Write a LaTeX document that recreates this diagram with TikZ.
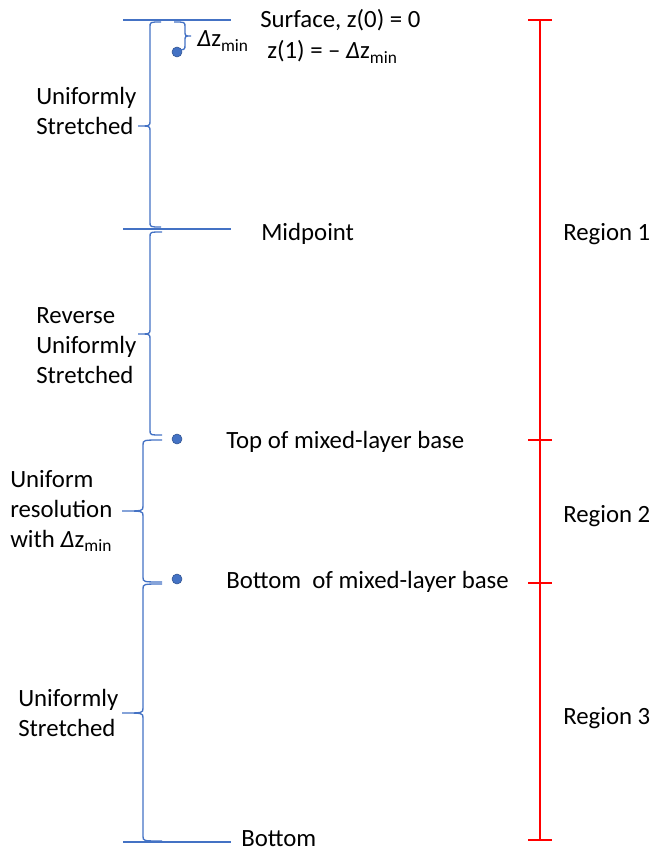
\documentclass[tikz,border=0pt]{standalone}
\usepackage{fontspec}
\setmainfont{Carlito}
\usetikzlibrary{positioning}
\definecolor{lineblue}{RGB}{68,114,196}
\definecolor{dotedge}{RGB}{47,82,143}
\tikzstyle{level} = [lineblue, line width=1.1pt]
\tikzstyle{curly} = [lineblue, line width=1pt]
\tikzstyle{ruler} = [red, line width=1.1pt]
\tikzstyle{txt} = [inner sep=0pt, align=left, font=\fontsize{18.6}{22.5}\selectfont]
\tikzstyle{gridpt} = [circle, fill=lineblue, draw=dotedge, line width=0.4pt, inner sep=0pt, minimum size=7.5pt]
% brace: end x, spine x, tip x, top y, tip y, bottom y
\newcommand{\sidebrace}[6]{%
  \draw[curly] (#1,#4) .. controls (#2,#4) .. (#2,{#4+5}) -- (#2,{#5-5})
    .. controls (#2,#5) .. (#3,#5) .. controls (#2,#5) .. (#2,{#5+5})
    -- (#2,{#6-5}) .. controls (#2,#6) .. (#1,#6);}
\newcommand{\dzmin}{\textit{Δ}z\textsubscript{min}}

\begin{document}
\begin{tikzpicture}[x=0.75pt, y=-0.75pt]
     \useasboundingbox (0,0) rectangle (653,852);
     % Levels
     \coordinate (surfL) at (123,20);   \coordinate (surfR) at (231,20);
     \coordinate (midL) at (123,229);   \coordinate (midR) at (231,229);
     \coordinate (botL) at (123,842);   \coordinate (botR) at (231,842);
     \draw [level] (surfL) -- (surfR);
     \draw [level] (midL) -- (midR);
     \draw [level] (botL) -- (botR);
     % Grid points
     \node [gridpt] (z1) at (177,52) {};
     \node [gridpt] (mltop) at (177,439) {};
     \node [gridpt] (mlbot) at (177,579) {};
     % Braces
     \sidebrace{174}{185}{191}{22}{36}{50}
     \sidebrace{161}{150}{138}{22}{126}{227}
     \sidebrace{162}{150}{138}{232}{334}{435}
     \sidebrace{162}{143}{122}{440}{511}{582}
     \sidebrace{162}{143}{122}{584}{713}{841}
     % Right hand labels
     \node [txt, anchor=base west] (surf) at (260,28) {Surface, z(0) = 0};
     \node [txt, anchor=base west] (zone) at (267,59) {z(1) = – \dzmin};
     \node [txt, anchor=base west] (dz) at (197,47) {\dzmin};
     \node [txt, anchor=base west] (mid) at (261,240) {Midpoint};
     \node [txt, anchor=base west] (top) at (226,448) {Top of mixed-layer base};
     \node [txt, anchor=base west] (bot) at (226,588) {Bottom\ \ of mixed-layer base};
     \node [txt, anchor=base west] (bottom) at (241,846) {Bottom};
     % Left hand labels
     \node [txt, anchor=west] (us1) at (36,111) {Uniformly\\Stretched};
     \node [txt, anchor=west] (rus) at (36,346) {Reverse\\Uniformly\\Stretched};
     \node [txt, anchor=west] (ur) at (10,511) {Uniform\\resolution\\with \dzmin};
     \node [txt, anchor=west] (us2) at (18,713) {Uniformly\\Stretched};
     % Regions
     \coordinate (r0) at (540,20);
     \coordinate (r1) at (540,440);
     \coordinate (r2) at (540,583);
     \coordinate (r3) at (540,840);
     \draw [ruler] (r0) -- (r3);
     \foreach \r in {r0,r1,r2,r3}
       \draw [ruler] ([xshift=-9pt]\r) -- ([xshift=9pt]\r);
     \node [txt, anchor=base west] (reg1) at (563,240) {Region 1};
     \node [txt, anchor=base west] (reg2) at (563,522) {Region 2};
     \node [txt, anchor=base west] (reg3) at (563,724) {Region 3};
    \end{tikzpicture}
\end{document}
